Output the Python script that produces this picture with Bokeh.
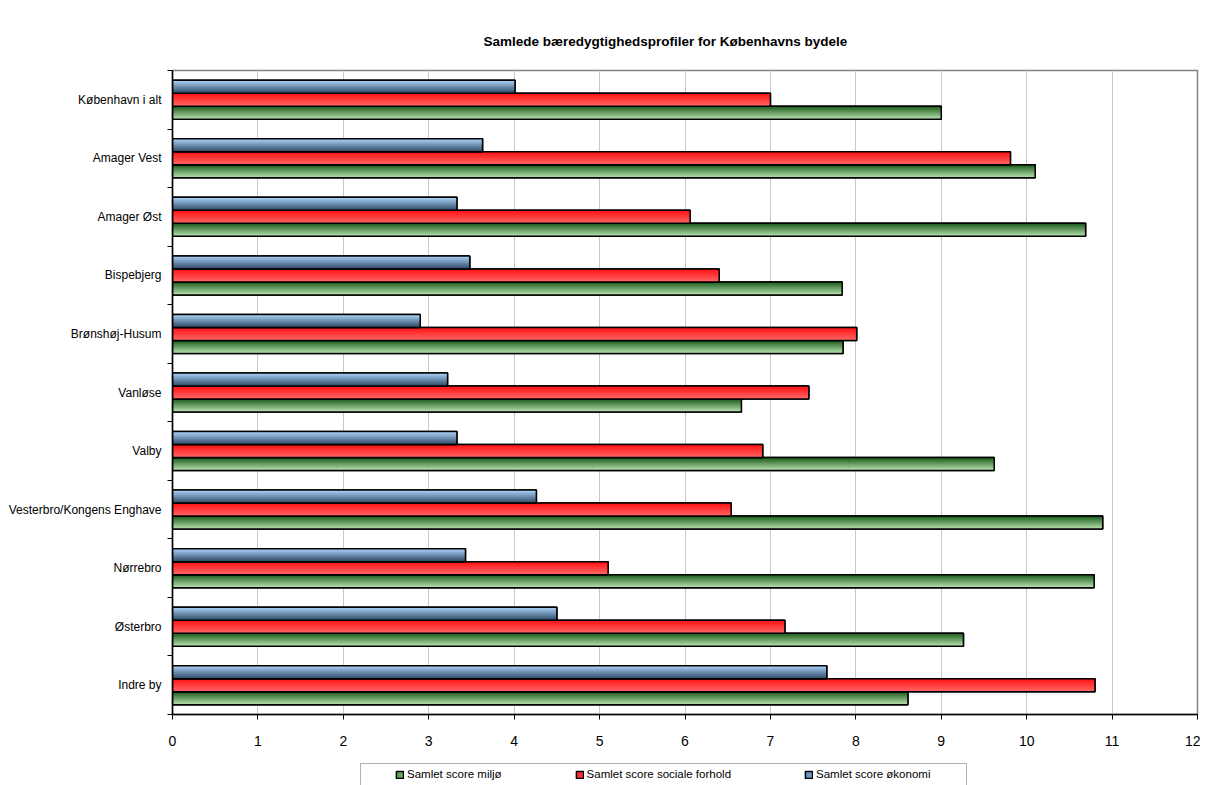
from bokeh.plotting import figure
from bokeh.models import (Range1d, FixedTicker, Legend, LegendItem, ColumnDataSource,
                          BoxAnnotation)
from bokeh.layouts import column
from bokeh.embed import file_html
from bokeh.resources import INLINE

# ---- data ----
categories = ["København i alt", "Amager Vest", "Amager Øst", "Bispebjerg",
              "Brønshøj-Husum", "Vanløse", "Valby", "Vesterbro/Kongens Enghave",
              "Nørrebro", "Østerbro", "Indre by"]
miljo = [9.00, 10.10, 10.69, 7.84, 7.85, 6.66, 9.62, 10.89, 10.79, 9.26, 8.61]
sociale = [7.00, 9.81, 6.06, 6.40, 8.01, 7.45, 6.91, 6.54, 5.10, 7.17, 10.80]
okonomi = [4.01, 3.63, 3.33, 3.48, 2.90, 3.22, 3.33, 4.26, 3.43, 4.50, 7.66]
series_names = ["Samlet score miljø", "Samlet score sociale forhold", "Samlet score økonomi"]
x_ticks = list(range(0, 13))

FONT = "Liberation Sans"
n = len(categories)
ycent = [n - 1 - i for i in range(n)]  # top category drawn highest

p = figure(width=1200, height=752, output_backend="svg", toolbar_location=None,
           x_range=Range1d(0, 12), y_range=Range1d(-0.5, n - 0.5),
           min_border_left=172, min_border_right=3, min_border_top=70,
           min_border_bottom=38, background_fill_color="white",
           border_fill_color="white")
p.frame_align = False

p.title.text = "Samlede bæredygtighedsprofiler for Københavns bydele"
p.title.text_font = FONT
p.title.text_font_size = "13.5px"
p.title.text_font_style = "bold"
p.title.text_color = "black"
p.title.align = "left"
p.title.offset = 311
p.title.standoff = 44

p.outline_line_color = "#808080"
p.outline_line_width = 1.5

# grids
p.ygrid.visible = False
p.xgrid.grid_line_color = "#c8c8c8"
p.xgrid.grid_line_width = 1
p.xgrid.ticker = FixedTicker(ticks=x_ticks)

# x axis
xa = p.xaxis[0]
xa.ticker = FixedTicker(ticks=x_ticks)
xa.major_tick_out = 5
xa.major_tick_in = 0
xa.minor_tick_line_color = None
xa.axis_line_color = "black"
xa.axis_line_width = 1.5
xa.major_tick_line_color = "black"
xa.major_label_text_font = FONT
xa.major_label_text_font_size = "14px"
xa.major_label_text_color = "black"
xa.major_label_standoff = 16

# y axis: labels at category centres, ticks at category boundaries
ya = p.yaxis[0]
ya.ticker = FixedTicker(ticks=ycent, minor_ticks=[c - 0.5 for c in range(n + 1)])
ya.major_label_overrides = {ycent[i]: categories[i] for i in range(n)}
ya.major_tick_line_color = None
ya.major_tick_out = 0
ya.major_tick_in = 0
ya.minor_tick_line_color = "black"
ya.minor_tick_out = 5
ya.minor_tick_in = 0
ya.axis_line_color = "black"
ya.axis_line_width = 1.5
ya.major_label_text_font = FONT
ya.major_label_text_font_size = "12px"
ya.major_label_text_color = "black"
ya.major_label_standoff = 6

bar_h = 0.222
steps = 12


def hexmix(c1, c2, t):
    a = [int(c1[i:i + 2], 16) for i in (1, 3, 5)]
    b = [int(c2[i:i + 2], 16) for i in (1, 3, 5)]
    return "#%02x%02x%02x" % tuple(round(a[k] + (b[k] - a[k]) * t) for k in range(3))


# series: values, vertical offset within group, gradient top/bottom, legend colour
specs = [
    (miljo, -bar_h, "#1f5f1f", "#b4dfac", "#5ea65a"),
    (sociale, 0.0, "#ff1414", "#ff6464", "#ff3030"),
    (okonomi, bar_h, "#a9d0f7", "#324d69", "#6c94c0"),
]

# legend strip below the chart (pixel-based ranges)
LW, LH = 1200, 33
pl = figure(width=LW, height=LH, output_backend="svg", toolbar_location=None,
            x_range=Range1d(0, LW), y_range=Range1d(0, LH),
            x_axis_type=None, y_axis_type=None,
            min_border_left=0, min_border_right=0, min_border_top=0,
            min_border_bottom=0, outline_line_color=None,
            background_fill_color="white", border_fill_color="white")
pl.frame_align = False
pl.grid.visible = False

legend_items = []
for (vals, off, ctop, cbot, cleg), name in zip(specs, series_names):
    yc = [c + off for c in ycent]
    src = ColumnDataSource(dict(y=yc, right=vals))
    p.hbar(y="y", right="right", left=0, height=bar_h, source=src,
           fill_color=cleg, line_color="black", line_width=1.5)
    for s in range(steps):
        t = s / (steps - 1)
        top = [y + bar_h / 2 - s * bar_h / steps for y in yc]
        bot = [y - bar_h / 2 for y in yc]
        p.quad(left=[0] * n, right=vals, top=top, bottom=bot,
               fill_color=hexmix(ctop, cbot, t), line_color=None)
    p.hbar(y="y", right="right", left=0, height=bar_h, source=src,
           fill_alpha=0, line_color="black", line_width=1.5)
    # legend swatch only (a single non-drawn row so the legend glyph renders)
    swatch = pl.hbar(y=[float("nan")], right=[float("nan")], left=0, height=1,
                     fill_color=cleg, line_color="black", line_width=1.5)
    legend_items.append(LegendItem(label=name, renderers=[swatch]))

pl.add_layout(BoxAnnotation(left=360, right=966, bottom=-5, top=LH - 11,
                            fill_alpha=0, line_color="black", line_width=1))

legend = Legend(items=legend_items, orientation="horizontal", location=(395, 5),
                border_line_color=None, background_fill_alpha=0,
                padding=5, margin=0, spacing=73, glyph_width=9, glyph_height=9,
                label_standoff=3, label_height=12, label_text_font=FONT,
                label_text_font_size="11.5px", label_text_color="black")
pl.add_layout(legend, "center")

layout = column(p, pl, spacing=0)
open("out.html", "w").write(file_html(layout, INLINE))
